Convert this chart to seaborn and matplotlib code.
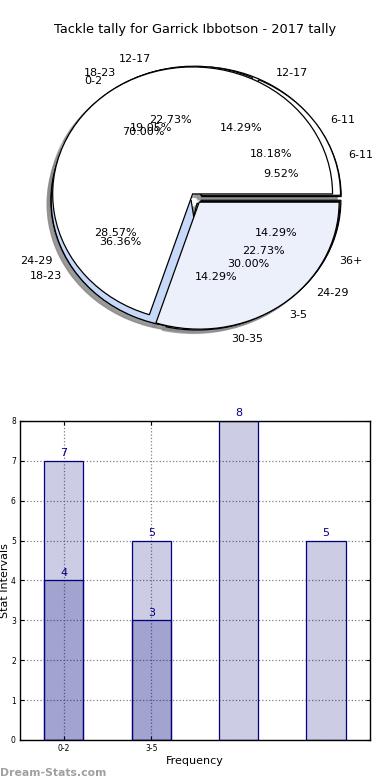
import matplotlib
matplotlib.use("Agg")
import matplotlib.pyplot as plt
import seaborn as sns
import pandas as pd

# pie data (three tallies drawn on top of each other)
pie1_labels = ["6-11", "12-17", "18-23", "24-29", "30-35", "36+"]
pie1_values = [2, 3, 4, 6, 3, 3]
pie2_labels = ["6-11", "12-17", "18-23", "24-29"]
pie2_values = [4, 5, 8, 5]
pie3_labels = ["0-2", "3-5"]
pie3_values = [7, 3]

# bar data
bar_cats = ["0-2", "3-5", "6-8", "9+"]
bar_light = [7, 5, 8, 5]
bar_dark_cats = ["0-2", "3-5"]
bar_dark = [4, 3]
tick_labels = ["0-2", "3-5"]

sns.set_style("white")
plt.rcParams["font.family"] = ["DejaVu Sans"]
plt.rcParams["text.color"] = "black"
plt.rcParams["axes.labelcolor"] = "black"
plt.rcParams["xtick.color"] = "black"
plt.rcParams["ytick.color"] = "black"

fig = plt.figure(figsize=(3.9, 7.8), dpi=100)

fig.text(0.5, 1 - 30 / 780, "Tackle tally for Garrick Ibbotson - 2017 tally",
         ha="center", va="center", fontsize=9.3)

# ---- pie ----
ax1 = fig.add_axes([0.0538, 0.5426, 0.897, 0.407])
tp = {"fontsize": 8, "color": "black"}
wp = {"edgecolor": "black", "linewidth": 0.9}
ax1.pie(pie1_values, labels=pie1_labels, autopct="%.2f%%", explode=[0.04] * 6,
        colors=["white", "#e6edfa", "white", "white", "white", "white"],
        shadow={"color": "#888888", "alpha": 0.6}, wedgeprops=wp, textprops=tp)
ax1.pie(pie2_values, labels=pie2_labels, autopct="%.2f%%", explode=[0.04] * 4,
        colors=["white", "white", "#c6d9f8", "#e6edfa"],
        shadow={"color": "#888888", "alpha": 0.6}, wedgeprops=wp, textprops=tp)
ax1.pie(pie3_values, labels=pie3_labels, autopct="%.2f%%", explode=[0.04] * 2,
        colors=["white", "#ebf0fb"],
        shadow={"color": "#888888", "alpha": 0.6}, wedgeprops=wp, textprops=tp)
ax1.set_aspect("auto")
ax1.set_xlim(-1.25, 1.25)
ax1.set_ylim(-1.25, 1.25)
ax1.axis("off")

# ---- bars ----
ax2 = fig.add_axes([0.0513, 0.0513, 0.897, 0.409])
light = pd.DataFrame({"cat": bar_cats, "val": bar_light})
dark = pd.DataFrame({"cat": bar_dark_cats, "val": bar_dark})
sns.barplot(data=light, x="cat", y="val", order=bar_cats, color="navy",
            saturation=1, width=0.45, ax=ax2)
sns.barplot(data=dark, x="cat", y="val", order=bar_cats, color="navy",
            saturation=1, width=0.45, ax=ax2)
for p in ax2.patches:
    p.set_facecolor((0, 0, 0.5, 0.2))
    p.set_edgecolor("navy")
    p.set_linewidth(0.9)
for c in ax2.containers:
    ax2.bar_label(c, color="navy", fontsize=8, padding=2)

ax2.set_xlim(-0.5, 3.5)
ax2.set_ylim(0, 8)
ax2.set_yticks(range(0, 9))
ax2.set_xticks([0, 1])
ax2.set_xticklabels(tick_labels)
ax2.tick_params(axis="both", labelsize=5.5, direction="in", length=3,
                right=True, top=True, left=True, bottom=True, pad=3)
ax2.grid(True, linestyle=":", color="gray", linewidth=0.9)
ax2.set_axisbelow(True)
for s in ax2.spines.values():
    s.set_color("black")
    s.set_linewidth(1)
ax2.set_xlabel("Frequency", fontsize=8, labelpad=2)
ax2.set_ylabel("Stat Intervals", fontsize=8, labelpad=1)

fig.text(0.0, 0.003, "Dream-Stats.com", color="#a0a0a0", fontsize=7.8,
         fontweight="bold", ha="left", va="bottom")

fig.savefig("out.png", dpi=100)
